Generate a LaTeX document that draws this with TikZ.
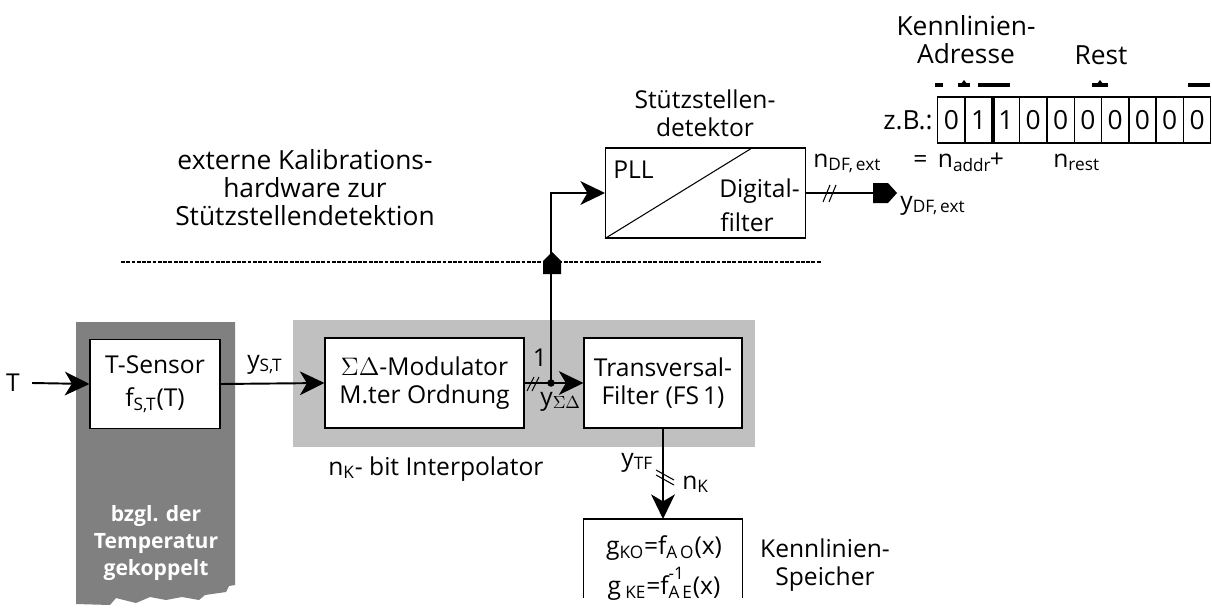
\documentclass[tikz,border=0pt]{standalone}
\usepackage{fontspec}
\setmainfont{Open Sans}
\usetikzlibrary{arrows.meta}
\definecolor{dgray}{HTML}{808080}
\definecolor{lgray}{HTML}{C0C0C0}
\begin{document}
\begin{tikzpicture}[x=0.02cm,y=-0.02cm,
  font=\fontsize{14}{16}\selectfont,
  blk/.style={draw,line width=0.6pt,fill=white,align=center,inner sep=0pt},
  lbl/.style={inner sep=0pt,align=center},
  conn/.style={line width=1.1pt,-{Stealth[length=14pt,width=13.5pt,inset=4pt]}},
  wire/.style={line width=1.1pt},
  slash/.style={line width=0.6pt},
  brc/.style={line width=1.8pt},
  bit/.style={draw,line width=0.8pt,minimum width=0.546cm,minimum height=0.92cm,inner sep=0pt,anchor=west,font=\fontsize{15}{16}\selectfont}]
\useasboundingbox (0,0) rectangle (1212,608);
% gray regions
\fill[dgray] (76,322) -- (235,322) -- (235,585) -- (229,586) -- (226,592) -- (205,595) -- (199,600) -- (182,597) -- (166,600) -- (150,597) -- (136,603) -- (116,598) -- (110,605) -- (76,604) -- cycle;
\fill[lgray] (293,320) rectangle (755,447);
\node[lbl,text=white,font=\fontsize{12}{15.3}\selectfont\bfseries] (bzgl) at (156,543) {bzgl. der\\Temperatur\\gekoppelt};
% dash-dotted separation line
\draw[line width=0.8pt, dash pattern=on 2.2pt off 0.8pt] (121,262) -- (822,262);
\node[lbl,font=\fontsize{15}{16}\selectfont] (ext) at (305,188) {externe Kalibrations-\\hardware zur\\Stützstellendetektion};
% blocks
\node[blk,minimum width=2.6cm,minimum height=1.78cm] (ts) at (155,384) {T-Sensor\\[3pt]f\textsubscript{S,T}(T)};
\node[blk,minimum width=3.98cm,minimum height=1.8cm] (sd) at (424.5,383) {{\fontsize{15}{16}\selectfont$\Sigma\Delta$}-Modulator\\M.ter Ordnung};
\node[blk,minimum width=3.16cm,minimum height=1.8cm] (tf) at (663,383) {Transversal-\\Filter (FS\,1)};
\node[blk,minimum width=4.0cm,minimum height=1.8cm] (pll) at (705.5,193) {};
\draw[line width=0.6pt] (pll.south west) -- (752,148);
\node[lbl,anchor=west] (plltxt) at (613,170) {PLL};
\node[lbl,anchor=east] (dig) at (800,191) {Digital-};
\node[lbl] (fil) at (747,222) {filter};
\node[lbl] (sst) at (705,113) {Stützstellen-\\detektor};
\node[inner sep=0pt,minimum width=3.16cm,minimum height=1.56cm,anchor=north] (mem) at (663,519) {};
\draw[line width=0.6pt] (mem.south west) -- (mem.north west) -- (mem.north east) -- (mem.south east);
\node[lbl] (g1) at (664,548) {g\textsubscript{KO}=f\textsubscript{A\,O}(x)};
\node[lbl] (g2) at (664,584) {g\,\textsubscript{KE}=f\rlap{\raisebox{0.4ex}{\textsuperscript{-1}}}\textsubscript{A\,E}(x)};
\node[lbl] (kls) at (825,565) {Kennlinien-\\Speicher};
% signals
\node[lbl] (T) at (13,383) {T};
\draw[conn] ([xshift=0.24cm]T.east) -- (ts.west);
\draw[conn] (ts.east) -- (sd.west);
\node[lbl,anchor=base west] (yst) at (247,368) {y\textsubscript{S,T}};
\draw[conn] (sd.east) -- (tf.west);
\coordinate (dot) at (551,383);
\draw[conn] (dot) |- (pll.west);
\fill (dot) circle[radius=0.075cm];
\fill (543,274) -- (561,274) -- (561,261) -- (552,252) -- (543,261) -- cycle;
\draw[slash] (527,391) -- (534,377) (532,391) -- (539,377);
\node[lbl] (one) at (540,358) {1};
\node[lbl,anchor=base west] (ysd) at (540,405) {y\textsubscript{$\Sigma\Delta$}};
\node[lbl,anchor=base west] (nk) at (328,475) {n\textsubscript{K}- bit Interpolator};
% to memory
\draw[conn] (tf.south) -- (mem.north);
\draw[slash] (656,470) -- (674,480) (656,475) -- (674,485);
\node[lbl,anchor=base west] (ytf) at (621,466) {y\textsubscript{TF}};
\node[lbl,anchor=base west] (nk2) at (682,489) {n\textsubscript{K}};
% output of detector
\draw[wire] (pll.east) -- (873,193);
\fill (873,183) -- (888,183) -- (897,193) -- (888,203) -- (873,203) -- cycle;
\draw[slash] (823,202) -- (830,185) (829,202) -- (836,185);
\node[lbl,anchor=base west] (ndf) at (813,167) {n\textsubscript{DF,\,ext}};
\node[lbl,anchor=base west] (ydf) at (900,209) {y\textsubscript{DF,\,ext}};
\node[lbl,anchor=base west] (eq) at (913,167) {=\, n\textsubscript{addr}\kern-1pt+};
\node[lbl,anchor=base west] (nr) at (1053,167) {n\textsubscript{rest}};
% address word
\node[lbl,anchor=east,font=\fontsize{15}{16}\selectfont] (zb) at (933,120) {z.B.:};
\foreach \b [count=\i] in {0,1,1,0,0,0,0,0,0,0}
  \node[bit] (b\i) at ({937+(\i-1)*27.3},120) {\b};
\draw[line width=2pt] (b2.north east) -- (b2.south east);
\node[lbl,font=\fontsize{15}{16}\selectfont] (kla) at (966,40) {Kennlinien-\\Adresse};
\node[lbl,font=\fontsize{15}{16}\selectfont] (rest) at (1101,55) {Rest};
\draw[brc] (935,85) -- (943,85) (958,85) -- (970,85) (978,85) -- (1010,85) (1092,85) -- (1108,85) (1188,85) -- (1210,85);
\fill (961,84) -- (964,80) -- (967,84) -- cycle;
\fill (1097,84) -- (1100,80) -- (1103,84) -- cycle;
\end{tikzpicture}
\end{document}
